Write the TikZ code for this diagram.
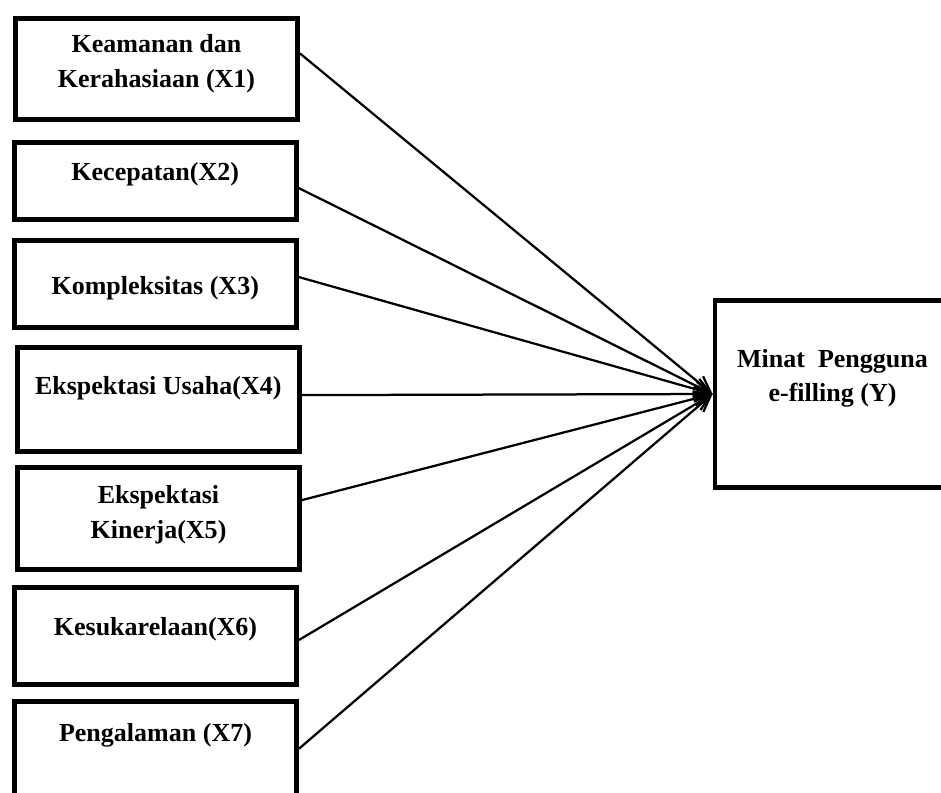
\documentclass[tikz,border=0pt]{standalone}
\usepackage{fontspec}
\setmainfont{Liberation Serif}
\usetikzlibrary{arrows.meta}

\begin{document}
\begin{tikzpicture}[x=0.025cm, y=-0.025cm,
		varbox/.style={draw, line width=3.4pt, minimum width=7.05cm, inner sep=0pt},
		txt/.style={font=\bfseries\fontsize{18.5}{24.5}\selectfont, align=center, anchor=base, inner sep=0pt},
		link/.style={line width=1.6pt, -{Straight Barb[length=4mm,width=3.8mm,line width=1.6pt]}}]
		%%%%% START %%%%%
		\useasboundingbox (0, 0) rectangle (941, 792);
		
		% left boxes
		\node[varbox, minimum height=2.525cm] (x1) at (156.5, 69) {};
		\node[varbox, minimum height=1.925cm] (x2) at (155.25, 181) {};
		\node[varbox, minimum height=2.175cm] (x3) at (155.25, 284) {};
		\node[varbox, minimum height=2.6cm] (x4) at (158.25, 399.5) {};
		\node[varbox, minimum height=2.55cm] (x5) at (158.5, 518.5) {};
		\node[varbox, minimum height=2.425cm] (x6) at (155.5, 636) {};
		\node[varbox, minimum height=2.3625cm] (x7) at (155.5, 748.75) {};
		
		% right box
		\node[draw, line width=3.4pt, minimum width=5.875cm, minimum height=4.675cm, inner sep=0pt] (y) at (832.5, 394) {};
		
		% labels (base = last line)
		\node[txt] (t1) at (156.5, 87.3) {Keamanan dan\\Kerahasiaan (X1)};
		\node[txt] (t2) at (155.25, 180) {Kecepatan(X2)};
		\node[txt] (t3) at (155.25, 294) {Kompleksitas (X3)};
		\node[txt] (t4) at (158.25, 394) {Ekspektasi Usaha(X4)};
		\node[txt] (t5) at (158.5, 538.3) {Ekspektasi\\Kinerja(X5)};
		\node[txt] (t6) at (155.5, 635) {Kesukarelaan(X6)};
		\node[txt] (t7) at (155.5, 741.7) {Pengalaman (X7)};
		\node[txt] (ty) at (832.5, 401.7) {Minat~~Pengguna\\e-filling (Y)};
		
		% arrows
		\draw[link] ([yshift=0.39cm]x1.east) -- (y.west);
		\draw[link] ([yshift=-0.175cm]x2.east) -- (y.west);
		\draw[link] ([yshift=0.175cm]x3.east) -- (y.west);
		\draw[link] ([yshift=0.11cm]x4.east) -- (y.west);
		\draw[link] ([yshift=0.46cm]x5.east) -- (y.west);
		\draw[link] ([yshift=-0.1cm]x6.east) -- (y.west);
		\draw[link] (x7.east) -- (y.west);
		%%%%% END %%%%%
\end{tikzpicture}
\end{document}
